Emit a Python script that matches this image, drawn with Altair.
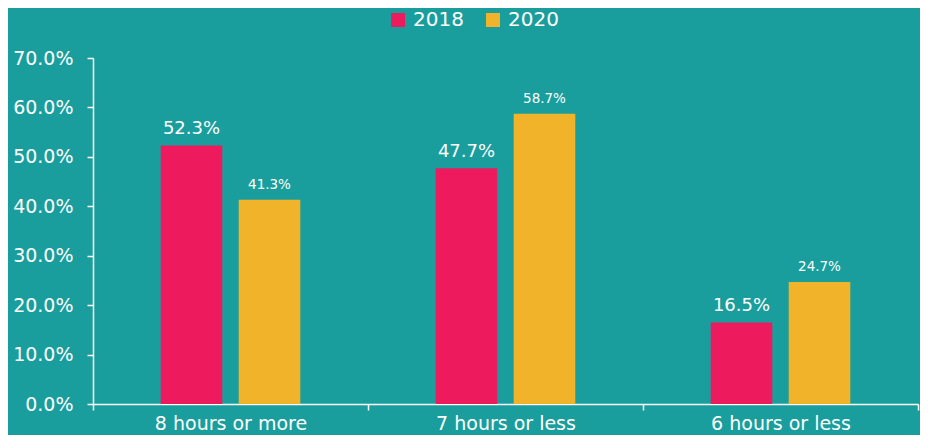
import altair as alt
import pandas as pd

categories = ["8 hours or more", "7 hours or less", "6 hours or less"]
years = ["2018", "2020"]
values_2018 = [0.523, 0.477, 0.165]
values_2020 = [0.413, 0.587, 0.247]

rows = []
for c, a, b in zip(categories, values_2018, values_2020):
    rows.append({"category": c, "year": "2018", "value": a})
    rows.append({"category": c, "year": "2020", "value": b})
df = pd.DataFrame(rows)

FONT = "DejaVu Sans"
BG = "#199E9D"
PINK = "#ED1A5D"
YELLOW = "#F1B32A"

x_enc = alt.X(
    "category:N",
    sort=categories,
    scale=alt.Scale(paddingInner=0, paddingOuter=0),
    axis=alt.Axis(
        title=None,
        labelAngle=0,
        labelFontSize=19,
        labelColor="white",
        labelFont=FONT,
        labelBaseline="alphabetic",
        labelPadding=19,
        tickBand="extent",
        tickColor="white",
        tickWidth=1.5,
        tickSize=6,
        domainColor="white",
        domainWidth=1.5,
        grid=False,
    ),
)
xoff = alt.XOffset("year:N", sort=years,
                   scale=alt.Scale(paddingInner=0.21, paddingOuter=0.868))
y_enc = alt.Y(
    "value:Q",
    scale=alt.Scale(domain=[0, 0.7], nice=False),
    axis=alt.Axis(
        title=None,
        format=".1%",
        values=[0, 0.1, 0.2, 0.3, 0.4, 0.5, 0.6, 0.7],
        labelFontSize=19,
        labelColor="white",
        labelFont=FONT,
        labelPadding=14,
        tickColor="white",
        tickWidth=1.5,
        tickSize=6,
        domainColor="white",
        domainWidth=1.5,
        grid=False,
    ),
)

bars = alt.Chart(df).mark_bar().encode(
    x=x_enc,
    xOffset=xoff,
    y=y_enc,
    color=alt.Color(
        "year:N",
        sort=years,
        scale=alt.Scale(domain=years, range=[PINK, YELLOW]),
        legend=alt.Legend(
            title=None,
            orient="none",
            legendX=295,
            legendY=-48,
            direction="horizontal",
            symbolType="square",
            symbolSize=196,
            symbolStrokeWidth=0,
            symbolOpacity=1,
            labelFontSize=20,
            labelColor="white",
            labelFont=FONT,
            labelOffset=5,
            columnPadding=19,
        ),
    ),
)


def label_layer(year, size):
    return alt.Chart(df).transform_filter(
        alt.datum.year == year
    ).mark_text(
        color="white", font=FONT, baseline="alphabetic", dy=-11, fontSize=size
    ).encode(
        x=alt.X("category:N", sort=categories),
        xOffset=alt.XOffset("year:N", sort=years),
        y=alt.Y("value:Q"),
        text=alt.Text("value:Q", format=".1%"),
    )


labels18 = label_layer("2018", 18)
labels20 = label_layer("2020", 13.5)

chart = (
    alt.layer(bars, labels18, labels20)
    .properties(
        width=825,
        height=346,
        background=BG,
        autosize=alt.AutoSizeParams(type="none"),
        padding={"left": 85, "top": 50, "right": 2, "bottom": 31},
    )
    .configure_view(stroke=None)
)

chart.save("out.html", embed_options={"renderer": "svg", "actions": False})
